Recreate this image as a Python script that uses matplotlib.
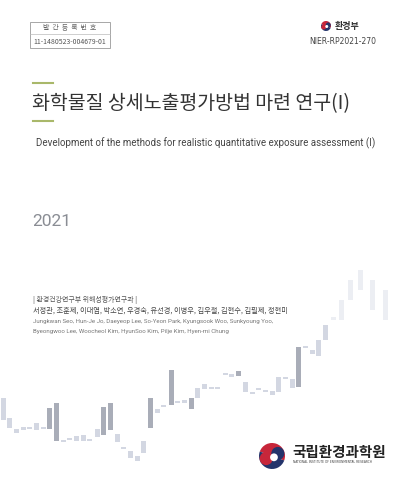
import matplotlib.pyplot as plt
from matplotlib.patches import Rectangle, Wedge, Circle

plt.rcParams['font.family'] = ['Noto Sans CJK KR', 'DejaVu Sans']

# background candlesticks (x position, body top, body bottom) in page pixels
candle_x = [3, 9, 16, 23, 29, 36, 43, 49, 56, 63, 69, 76, 83, 89, 97, 103, 110, 117,
            123, 130, 137, 143, 150, 157, 163, 171, 177, 184, 191, 197, 204, 211, 217,
            225, 231, 238, 245, 252, 258, 265, 272, 278, 285, 292, 298, 305, 312, 318,
            325, 333, 341, 350, 360, 372, 385]
candle_top = [398, 418, 429, 427, 427, 423, 427, 408, 403, 440, 438, 436, 435, 439,
              429, 407, 403, 434, 447, 451, 456, 441, 398, 409, 405, 370, 401, 400,
              398, 388, 384, 387, 387, 373, 374, 371, 382, 392, 388, 390, 391, 377,
              377, 379, 347, 346, 350, 340, 325, 317, 300, 280, 270, 280, 290]
candle_bot = [420, 428, 433, 430, 428, 430, 429, 429, 441, 442, 440, 441, 441, 441,
              437, 435, 430, 442, 449, 458, 461, 453, 428, 413, 406, 405, 403, 403,
              409, 398, 389, 389, 389, 375, 377, 376, 392, 393, 390, 392, 395, 392,
              378, 388, 387, 347, 354, 356, 340, 320, 320, 300, 290, 310, 320]
dark_idx = [7, 8, 15, 16, 22, 25, 28, 35, 44]

fig = plt.figure(figsize=(4, 5), dpi=100)
fig.patch.set_facecolor('white')
ax = fig.add_axes([0, 0, 1, 1])
ax.set_xlim(0, 400)
ax.set_ylim(500, 0)
ax.axis('off')

for i, (x, t, b) in enumerate(zip(candle_x, candle_top, candle_bot)):
    if i in dark_idx:
        col = '#a9adb8'
    elif i >= 49:
        col = '#eceef3'  # fades out towards the upper right
    else:
        col = '#d3d7e2'
    ax.add_patch(Rectangle((x - 2.5, t), 5, max(b - t, 1.5), color=col, lw=0))

# top-left registration box
ax.add_patch(Rectangle((30, 22), 80, 26, fill=False, ec='#999999', lw=0.6))
ax.plot([30, 110], [33.5, 33.5], color='#bbbbbb', lw=0.5)
ax.text(70, 28, '발  간  등  록  번  호', fontsize=5, color='#666666', ha='center', va='center')
ax.text(70, 42, '11-1480523-004679-01', fontsize=5, color='#555555', ha='center', va='center')

# ministry logo
def taegeuk(cx, cy, r):
    ax.add_patch(Wedge((cx, cy), r, 200, 20, color='#c7263a', lw=0))
    ax.add_patch(Wedge((cx, cy), r, 20, 200, color='#24346b', lw=0))
    ax.add_patch(Circle((cx - r * 0.45, cy + r * 0.2), r * 0.5, color='#c7263a', lw=0))
    ax.add_patch(Circle((cx + r * 0.45, cy - r * 0.2), r * 0.5, color='#24346b', lw=0))
    ax.add_patch(Circle((cx + r * 0.15, cy + r * 0.1), r * 0.3, color='white', lw=0))

taegeuk(326, 26, 5)
ax.text(335, 26, '환경부', fontsize=6.5, color='#333333', va='center', fontweight='bold')
ax.text(343, 42, 'NIER-RP2021-270', fontsize=5.5, color='#444444', ha='center', va='center',
        family='DejaVu Sans')

# title block
ax.plot([33, 53], [83, 83], color='#a9b86a', lw=1.5)
ax.plot([33, 53], [121, 121], color='#a9b86a', lw=1.5)
ax.text(32, 104, '화학물질 상세노출평가방법 마련 연구(I)', fontsize=14, color='#333333',
        va='center')
ax.text(36, 143, 'Development of the methods for realistic quantitative exposure assessment (I)',
        fontsize=7.05, color='#444444', va='center', family='Roboto')
ax.text(32, 222, '2021', fontsize=12.5, color='#8a8d94', va='center', family='Roboto')

# authors
ax.text(33, 300, '| 환경건강연구부 위해성평가연구과 |', fontsize=5, color='#555555', va='center')
ax.text(33, 311, '서정관, 조훈제, 이대엽, 박소연, 우경숙, 유선경, 이병우, 김우철, 김현수, 김필제, 정현미',
        fontsize=5.2, color='#444444', va='center')
ax.text(33, 322, 'Jungkwan Seo, Hun-Je Jo, Daeyeop Lee, So-Yeon Park, Kyungsook Woo, Sunkyoung Yoo,',
        fontsize=4.4, color='#777777', va='center', family='Roboto')
ax.text(33, 332, 'Byeongwoo Lee, Woocheol Kim, HyunSoo Kim, Pilje Kim, Hyen-mi Chung',
        fontsize=4.4, color='#777777', va='center', family='Roboto')

# institute logo
taegeuk(272, 456, 13)
ax.text(292, 452, '국립환경과학원', fontsize=10.5, color='#222222', va='center', fontweight='bold')
ax.text(293, 462, 'NATIONAL INSTITUTE OF ENVIRONMENTAL RESEARCH', fontsize=2.2,
        color='#444444', va='center', family='DejaVu Sans')

fig.savefig('out.png', dpi=100, facecolor='white')
